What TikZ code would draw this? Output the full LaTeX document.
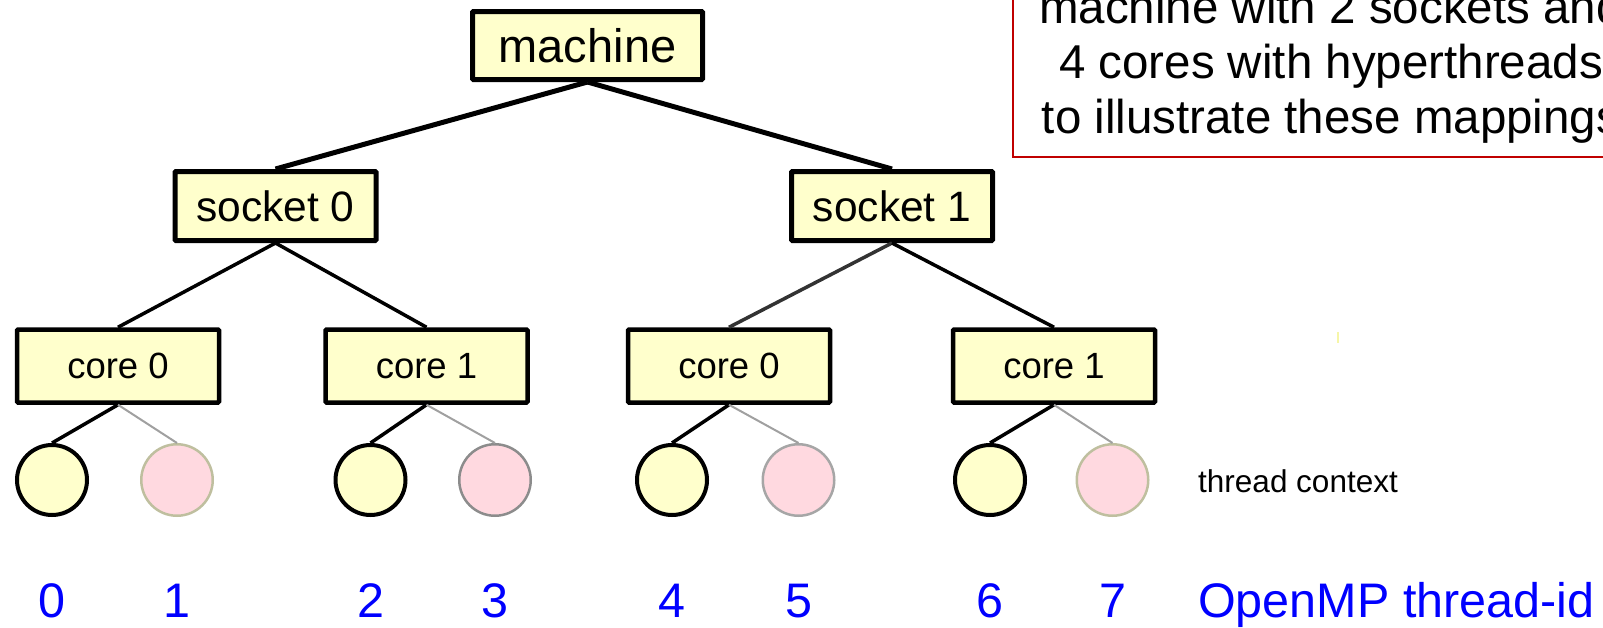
\documentclass[tikz,border=0pt]{standalone}
\usepackage{fontspec}
\setmainfont{Liberation Sans}
\definecolor{boxfill}{HTML}{FFFFCC}
\definecolor{htpink}{HTML}{FFD9E0}
\definecolor{khaki}{HTML}{BFBF9F}
\definecolor{midgray}{HTML}{8C8C8C}
\definecolor{lightgray}{HTML}{A6A6A6}
\definecolor{linkgray}{HTML}{A0A0A0}
\definecolor{notered}{HTML}{C00000}
\definecolor{idblue}{HTML}{0000FF}
\definecolor{tick}{HTML}{F6F6A8}
\begin{document}
\begin{tikzpicture}[x=1pt,y=-1pt,
  hwbox/.style={rectangle, draw=black, fill=boxfill, inner sep=0pt, rounded corners=1pt},
  machbox/.style={hwbox, line width=5pt, minimum width=230pt, minimum height=68pt,
    font=\fontsize{47}{50}\selectfont},
  sockbox/.style={hwbox, line width=5pt, minimum width=201pt, minimum height=69pt,
    font=\fontsize{42.5}{46}\selectfont},
  corebox/.style={hwbox, line width=4.5pt, minimum width=202pt, minimum height=73pt,
    font=\fontsize{36.5}{40}\selectfont},
  hwthread/.style={circle, draw=black, fill=boxfill, line width=4pt,
    minimum size=70pt, inner sep=0pt},
  htthread/.style={circle, fill=htpink, line width=2.5pt,
    minimum size=71.5pt, inner sep=0pt},
  toplink/.style={line width=5pt},
  midlink/.style={line width=3.5pt},
  hwlink/.style={line width=3.5pt},
  htlink/.style={line width=2pt, draw=linkgray},
  tid/.style={anchor=base, text=idblue, inner sep=0pt, font=\fontsize{48.5}{52}\selectfont},
  notetext/.style={anchor=base, inner sep=0pt, font=\fontsize{47.5}{52}\selectfont}
]
\useasboundingbox (0,0) rectangle (1603,627);
\clip (0,0) rectangle (1603,627);

% note box, partly outside the page
\draw[notered, line width=2pt] (1013,-20) rectangle (1660,157);
\node[notetext] (n1) at (1331,23) {machine with 2 sockets and};
\node[notetext] (n2) at (1331,78) {4 cores with hyperthreads};
\node[notetext] (n3) at (1331,133) {to illustrate these mappings};

% hierarchy boxes
\node[machbox] (m) at (587.5,45.5) {machine};
\node[sockbox] (s0) at (275.5,206) {socket 0};
\node[sockbox] (s1) at (892,206) {socket 1};
\node[corebox] (c0) at (118,366) {core 0};
\node[corebox] (c1) at (426.5,366) {core 1};
\node[corebox] (c2) at (729,366) {core 0};
\node[corebox] (c3) at (1054,366) {core 1};

% hardware thread contexts
\node[hwthread] (t0) at (52,480) {};
\node[htthread, draw=khaki] (t1) at (177,480) {};
\node[hwthread] (t2) at (370.5,480) {};
\node[htthread, draw=midgray] (t3) at (495,480) {};
\node[hwthread] (t4) at (672,480) {};
\node[htthread, draw=lightgray] (t5) at (798.5,480) {};
\node[hwthread] (t6) at (990,480) {};
\node[htthread, draw=khaki] (t7) at (1112.5,480) {};

% connectors
\draw[toplink] (m.south) -- (s0.north);
\draw[toplink] (m.south) -- (s1.north);
\draw[midlink] (s0.south) -- (c0.north);
\draw[midlink] (s0.south) -- (c1.north);
\draw[midlink, draw=black!80] (s1.south) -- (c2.north);
\draw[midlink] (s1.south) -- (c3.north);
\foreach \c/\a/\b in {c0/t0/t1, c1/t2/t3, c2/t4/t5, c3/t6/t7}{
  \draw[hwlink] (\c.south) -- (\a.north);
  \draw[htlink] (\c.south) -- (\b.north);
}

% labels
\node[anchor=base west, inner sep=0pt, font=\fontsize{31.5}{34}\selectfont] (tc) at (1198,492) {thread context};
\node[tid] (i0) at (t0.center |- 0,617) {0};
\node[tid] (i1) at (t1.center |- 0,617) {1};
\node[tid] (i2) at (t2.center |- 0,617) {2};
\node[tid] (i3) at (t3.center |- 0,617) {3};
\node[tid] (i4) at (t4.center |- 0,617) {4};
\node[tid] (i5) at (t5.center |- 0,617) {5};
\node[tid] (i6) at (t6.center |- 0,617) {6};
\node[tid] (i7) at (t7.center |- 0,617) {7};
\node[tid, anchor=base west] (omp) at (1198,617) {OpenMP thread-id};

% stray mark to the right of the cores
\coordinate (k1) at (1338,332);
\coordinate (k2) at (1338,343);
\draw[tick, line width=1.5pt] (k1) -- (k2);
\end{tikzpicture}
\end{document}
